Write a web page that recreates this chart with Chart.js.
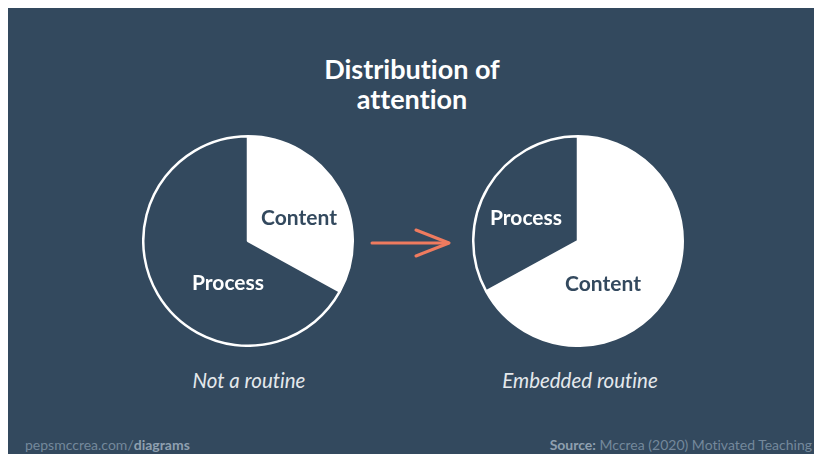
<!DOCTYPE html>
<html>
<head>
<meta charset="utf-8">
<script src="https://cdn.jsdelivr.net/npm/chart.js@4.4.1/dist/chart.umd.min.js"></script>
<style>
  html, body { margin: 0; padding: 0; background: #ffffff; width: 814px; height: 454px; overflow: hidden; }
  * { font-variant-ligatures: none; font-feature-settings: "liga" 0; }
  #panel { position: absolute; left: 8px; top: 8px; width: 806px; height: 446px; background: #33495e; }
  .abs { position: absolute; }
  #title { left: 262px; top: 54px; width: 300px; text-align: center; color: #ffffff;
           font-family: Lato, sans-serif; font-weight: 700; font-size: 27px; line-height: 30px; }
  .cap { top: 368px; width: 220px; text-align: center; color: #e4e8ec;
         font-family: Lato, sans-serif; font-style: italic; font-size: 20.5px; line-height: 24px; }
  .foot { top: 437px; font-family: Lato, sans-serif; font-size: 14px; line-height: 16px; color: #74889b; white-space: nowrap; }
  .foot b { color: #8fa0b0; }
  canvas { position: absolute; }
</style>
</head>
<body>
<div id="panel"></div>
<div id="title" class="abs">Distribution of<br>attention</div>
<canvas id="pieA" width="212" height="212" style="left:142px; top:135px;"></canvas>
<canvas id="pieB" width="212" height="212" style="left:472px; top:135px;"></canvas>
<svg class="abs" style="left:360px; top:220px;" width="100" height="46">
  <line x1="12" y1="23" x2="88" y2="23" stroke="#ef7b5f" stroke-width="3" stroke-linecap="round"/>
  <polyline points="56,10 89,23 56,36" fill="none" stroke="#ef7b5f" stroke-width="3" stroke-linecap="round" stroke-linejoin="round"/>
</svg>
<div class="abs cap" style="left:139px;">Not a routine</div>
<div class="abs cap" style="left:470px;">Embedded routine</div>
<div class="abs foot" style="left:25px;">pepsmccrea.com/<b>diagrams</b></div>
<div class="abs foot" style="right:2px;"><b>Source:</b> Mccrea (2020) Motivated Teaching</div>

<script>
// ---- data ----
const notRoutineLabels = ["Content", "Process"];
const notRoutineValues = [33, 67];
const embeddedLabels = ["Content", "Process"];
const embeddedValues = [67, 33];

const BG = "#33495e";
const WHITE = "#ffffff";

const sliceLabels = {
  id: "sliceLabels",
  afterDatasetsDraw(chart, args, opts) {
    const ctx = chart.ctx;
    const meta = chart.getDatasetMeta(0);
    ctx.save();
    ctx.font = "700 21px Lato, sans-serif";
    ctx.textAlign = "center";
    ctx.textBaseline = "middle";
    meta.data.forEach((arc, i) => {
      const off = opts.offsets[i];
      ctx.fillStyle = opts.colors[i];
      ctx.fillText(chart.data.labels[i], arc.x + off[0], arc.y + off[1]);
    });
    ctx.restore();
  }
};

function makePie(id, labels, values, fills, textColors, offsets) {
  return new Chart(document.getElementById(id), {
    type: "pie",
    data: {
      labels: labels,
      datasets: [{
        data: values,
        backgroundColor: fills,
        borderColor: WHITE,
        borderWidth: 2.5
      }]
    },
    options: {
      responsive: false,
      animation: false,
      events: [],
      layout: { padding: 0 },
      plugins: {
        legend: { display: false },
        tooltip: { enabled: false },
        sliceLabels: { colors: textColors, offsets: offsets }
      }
    },
    plugins: [sliceLabels]
  });
}

makePie("pieA", notRoutineLabels, notRoutineValues,
  [WHITE, BG], [BG, WHITE], [[51, -23], [-20, 42]]);
makePie("pieB", embeddedLabels, embeddedValues,
  [WHITE, BG], [BG, WHITE], [[25, 43], [-52, -23]]);
</script>
</body>
</html>
